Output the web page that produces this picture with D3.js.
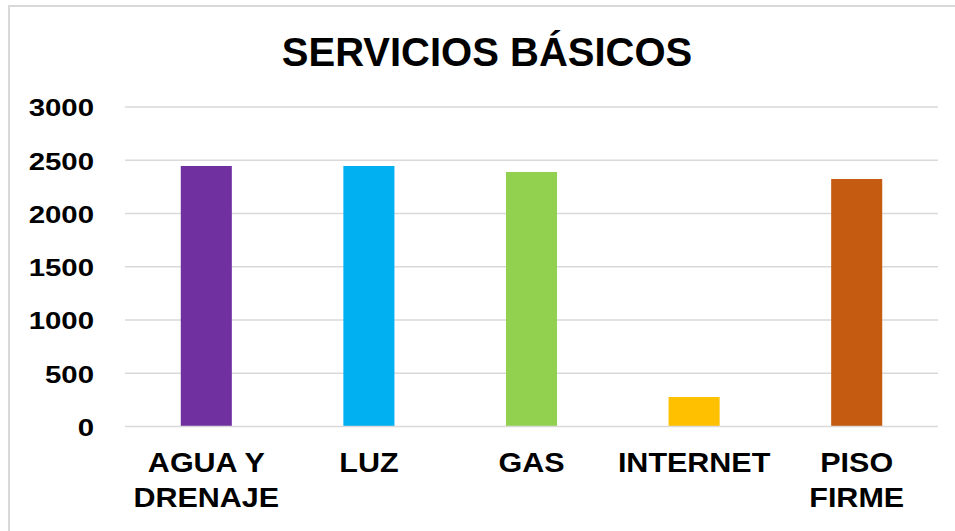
<!DOCTYPE html>
<meta charset="utf-8">
<html>
<head>
    <script src="https://d3js.org/d3.v7.js"></script>
    <style>
        body { margin: 0; background: #fff; }
        text { font-family: "Liberation Sans", Arial, sans-serif; font-weight: bold; fill: #000; }
    </style>
</head>
<body>
    <script>
    // Data
    var categories = ["AGUA Y DRENAJE", "LUZ", "GAS", "INTERNET", "PISO FIRME"];
    var labelLines = [["AGUA Y", "DRENAJE"], ["LUZ"], ["GAS"], ["INTERNET"], ["PISO", "FIRME"]];
    var values = [2446, 2446, 2390, 277, 2324];
    var barColors = ["#7030A0", "#00B0F0", "#92D050", "#FFC000", "#C55A11"];
    var yTicks = [0, 500, 1000, 1500, 2000, 2500, 3000];

    let width = 955, height = 531
    var svg = d3.select("body").append("svg")
        .attr("width", width)
        .attr("height", height);

    // chart frame (right and bottom edges sit outside the picture)
    svg.append("rect")
        .attr("x", 9)
        .attr("y", 6)
        .attr("width", 960)
        .attr("height", 540)
        .attr("fill", "none")
        .attr("stroke", "#d9d9d9")
        .attr("stroke-width", 2);

    // plot area
    const plot = {left: 125, right: 938, top: 107, bottom: 426.5};

    var x = d3.scaleBand()
        .domain(categories)
        .range([plot.left, plot.right])
        .paddingInner(0.686)
        .paddingOuter(0.343);

    var y = d3.scaleLinear()
        .domain([0, 3000])
        .range([plot.bottom, plot.top]);

    // title
    svg.append("text")
        .attr("x", 487)
        .attr("y", 66)
        .attr("text-anchor", "middle")
        .style("font-size", "40px")
        .text("SERVICIOS BÁSICOS");

    // gridlines
    svg.append("g")
        .selectAll("line")
        .data(yTicks.filter(d => d > 0))
        .join("line")
            .attr("x1", plot.left)
            .attr("x2", plot.right)
            .attr("y1", d => y(d))
            .attr("y2", d => y(d))
            .attr("stroke", "#d9d9d9")
            .attr("stroke-width", 1.5);

    // y axis labels
    var yAxis = svg.append("g")
        .attr("transform", `translate(${plot.left},0)`)
        .call(d3.axisLeft(y).tickValues(yTicks).tickFormat(d3.format("d")).tickSize(0).tickPadding(31));
    yAxis.select(".domain").remove();
    yAxis.selectAll("text")
        .attr("font-family", null)
        .attr("dy", "0.36em")
        .style("font-size", "24.5px")
        .attr("transform", "scale(1.2,1)")
        .attr("x", -31 / 1.2);

    // bars
    svg.append("g")
        .selectAll("rect")
        .data(values)
        .join("rect")
            .attr("x", (d, i) => x(categories[i]))
            .attr("y", d => y(d))
            .attr("width", x.bandwidth())
            .attr("height", d => y(0) - y(d))
            .attr("fill", (d, i) => barColors[i]);

    // baseline
    svg.append("line")
        .attr("x1", plot.left)
        .attr("x2", plot.right)
        .attr("y1", y(0))
        .attr("y2", y(0))
        .attr("stroke", "#d9d9d9")
        .attr("stroke-width", 1.5);

    // category labels
    var catLabels = svg.append("g")
        .selectAll("text")
        .data(categories)
        .join("text")
            .attr("text-anchor", "middle")
            .attr("transform", d => `translate(${x(d) + x.bandwidth() / 2},472) scale(1.07,1)`)
            .style("font-size", "28.5px");

    catLabels.selectAll("tspan")
        .data((d, i) => labelLines[i])
        .join("tspan")
            .attr("x", 0)
            .attr("y", (d, j) => j * 35)
            .text(d => d);
    </script>
</body>
</html>
